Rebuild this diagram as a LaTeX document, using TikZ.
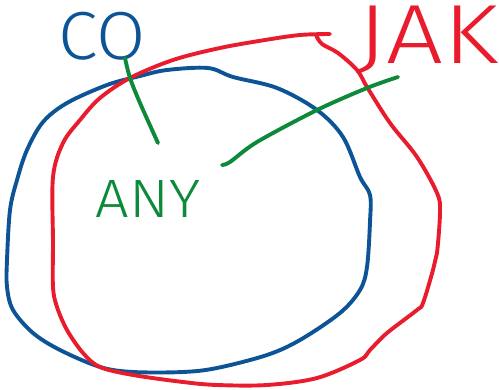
\documentclass[tikz,border=0pt]{standalone}
\usepackage{fontspec}
\newfontfamily\hand{Fira Sans Light}
\definecolor{inkblue}{RGB}{12,84,150}
\definecolor{inkred}{RGB}{232,28,44}
\definecolor{inkgreen}{RGB}{12,138,58}
\tikzset{
  stroke/.style={line width=3.9pt, line cap=round, line join=round},
  word/.style={font=\hand, inner sep=0pt},
}
\begin{document}
\begin{tikzpicture}[x=1pt,y=-1pt]
\useasboundingbox (0,0) rectangle (499,390);
% blue set
\draw[stroke, inkblue] plot[smooth cycle, tension=0.55] coordinates {
 (208,68) (233,77) (277,88) (317,110) (343,137) (360,177) (370,195)
 (370,222) (367,267) (360,290) (340,313) (300,340) (267,355) (217,368)
 (183,372) (133,372) (100,367) (60,350) (33,333) (13,310) (7,287)
 (7,260) (10,210) (17,180) (27,150) (43,122) (67,103) (107,85) (140,76)
 (167,70)};
% red set
\draw[stroke, inkred] plot[smooth, tension=0.55] coordinates {
 (316,35) (322,44) (338,53) (357,70) (367,87) (390,123) (417,157)
 (437,193) (440,212) (437,253) (433,270) (423,303) (417,310) (387,333)
 (370,350) (360,360) (317,378) (267,385) (217,385) (183,382) (133,375)
 (100,367) (83,353) (67,330) (57,307) (53,287) (53,243) (53,177)
 (63,143) (80,120) (100,98) (130,78) (173,60) (220,48) (265,40)
 (300,35) (330,34)};
% labels
\node[word, text=inkblue, font=\hand\fontsize{68}{68}\selectfont, xscale=1.05] (co) at (102,36) {CO};
\node[word, text=inkred, font=\hand\fontsize{84}{84}\selectfont, xscale=1.2] (jak) at (428,40) {JAK};
\node[word, text=inkgreen, font=\hand\fontsize{54}{54}\selectfont, xscale=1.1] (any) at (148,199) {ANY};
% green pointers
\coordinate (p1a) at (158,143);
\coordinate (p1b) at (125,58);
\coordinate (p2a) at (222,165);
\coordinate (p2b) at (398,77);
\draw[stroke, inkgreen] plot[smooth, tension=0.5] coordinates {(p1a) (140,103) (130,78) (p1b)};
\draw[stroke, inkgreen] plot[smooth, tension=0.5] coordinates {(p2a) (230,162) (257,142) (317,110) (367,88) (p2b)};
\end{tikzpicture}
\end{document}
